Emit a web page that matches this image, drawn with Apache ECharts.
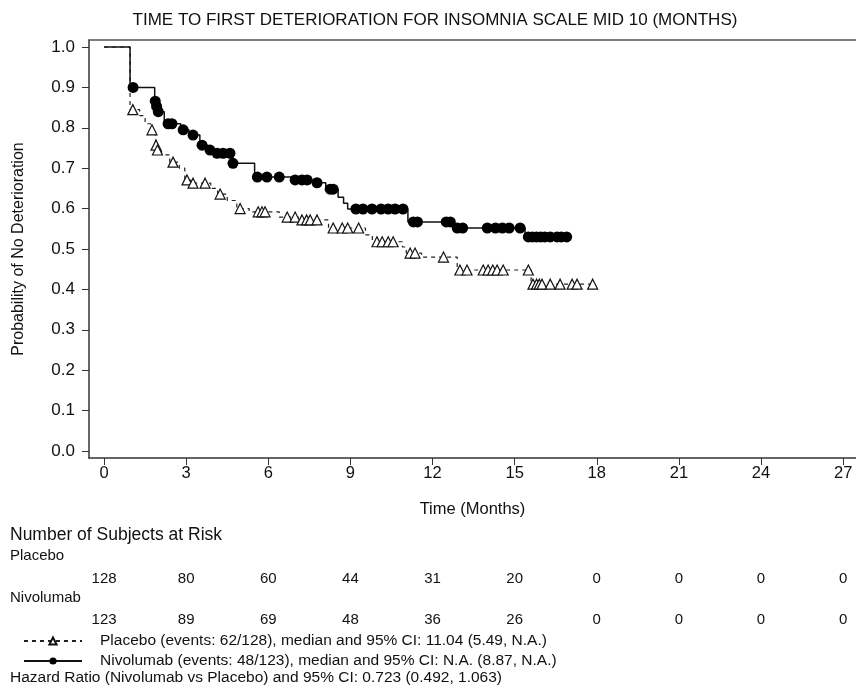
<!DOCTYPE html>
<html>
<head>
<meta charset="utf-8">
<script src="https://cdn.jsdelivr.net/npm/echarts@6/dist/echarts.min.js"></script>
<style>
  html, body { margin: 0; padding: 0; background: #fff; }
  #chart { width: 856px; height: 690px; }
</style>
</head>
<body>
<div id="chart"></div>
<script>
// time ticks (months) and risk table
const timeTicks = [0, 3, 6, 9, 12, 15, 18, 21, 24, 27]
const probTicks = [0, 0.1, 0.2, 0.3, 0.4, 0.5, 0.6, 0.7, 0.8, 0.9, 1.0]
const placeboAtRisk = [128, 80, 60, 44, 31, 20, 0, 0, 0, 0]
const nivolumabAtRisk = [123, 89, 69, 48, 36, 26, 0, 0, 0, 0]

// Kaplan-Meier steps: [time, survival after event]
const placeboEvents = [
  [0.95, 0.845], [1.3, 0.83], [1.5, 0.81], [1.7, 0.795], [1.88, 0.757], [1.93, 0.745],
  [2.1, 0.733], [2.4, 0.715], [2.75, 0.7], [2.95, 0.671], [3.15, 0.663], [3.9, 0.65],
  [4.15, 0.636], [4.5, 0.62], [4.85, 0.6], [5.3, 0.592], [6.4, 0.579], [7.1, 0.572],
  [8.2, 0.552], [9.55, 0.535], [9.8, 0.518], [10.9, 0.505], [11.04, 0.49], [11.6, 0.48],
  [12.9, 0.448], [15.6, 0.413]
]
// censored observations
const placeboCensored = [
  [1.05, 0.845], [1.75, 0.795], [1.9, 0.757], [1.95, 0.745], [2.52, 0.715], [3.03, 0.671],
  [3.25, 0.663], [3.69, 0.663], [4.24, 0.636], [4.97, 0.6], [5.63, 0.592], [5.77, 0.592],
  [5.88, 0.592], [6.69, 0.579], [6.98, 0.579], [7.23, 0.572], [7.4, 0.572], [7.53, 0.572],
  [7.78, 0.572], [8.37, 0.552], [8.7, 0.552], [8.9, 0.552], [9.3, 0.552], [9.97, 0.518],
  [10.16, 0.518], [10.38, 0.518], [10.56, 0.518], [11.18, 0.49], [11.36, 0.49], [12.4, 0.48],
  [13.0, 0.448], [13.26, 0.448], [13.85, 0.448], [14.03, 0.448], [14.2, 0.448], [14.36, 0.448],
  [14.58, 0.448], [15.5, 0.448], [15.67, 0.413], [15.8, 0.413], [15.9, 0.413], [16.0, 0.413],
  [16.3, 0.413], [16.66, 0.413], [17.1, 0.413], [17.28, 0.413], [17.85, 0.413]
]

const nivolumabEvents = [
  [0.95, 0.9], [1.85, 0.866], [1.9, 0.853], [1.95, 0.84], [2.2, 0.81], [2.8, 0.795],
  [3.1, 0.782], [3.5, 0.757], [3.8, 0.745], [4.0, 0.737], [4.65, 0.712], [5.5, 0.678],
  [6.9, 0.671], [7.6, 0.664], [8.1, 0.648], [8.55, 0.628], [8.75, 0.613], [8.9, 0.599],
  [11.1, 0.567], [12.75, 0.552], [15.38, 0.53]
]
const nivolumabCensored = [
  [1.06, 0.9], [1.87, 0.866], [1.92, 0.853], [1.98, 0.84], [2.34, 0.81], [2.48, 0.81],
  [2.89, 0.795], [3.25, 0.782], [3.58, 0.757], [3.87, 0.745], [4.13, 0.737], [4.35, 0.737],
  [4.6, 0.737], [4.71, 0.712], [5.6, 0.678], [5.95, 0.678], [6.4, 0.678], [6.98, 0.671],
  [7.23, 0.671], [7.42, 0.671], [7.78, 0.664], [8.26, 0.648], [8.37, 0.648], [9.2, 0.599],
  [9.46, 0.599], [9.79, 0.599], [10.12, 0.599], [10.38, 0.599], [10.63, 0.599], [10.92, 0.599],
  [11.3, 0.567], [11.45, 0.567], [12.5, 0.567], [12.65, 0.567], [12.9, 0.552], [13.1, 0.552],
  [14.0, 0.552], [14.3, 0.552], [14.55, 0.552], [14.8, 0.552], [15.2, 0.552], [15.5, 0.53],
  [15.65, 0.53], [15.8, 0.53], [15.95, 0.53], [16.1, 0.53], [16.3, 0.53], [16.55, 0.53],
  [16.7, 0.53], [16.9, 0.53]
]

const legendText = {
  Placebo: 'Placebo (events: 62/128), median and 95% CI: 11.04 (5.49, N.A.)',
  Nivolumab: 'Nivolumab (events: 48/123), median and 95% CI: N.A. (8.87, N.A.)'
}

const FONT = 'Liberation Sans, Arial, sans-serif'
const X_MIN = -0.55
const X_MAX = 27.47

// merge events + censored into one step curve, markers only on censored points
function buildCurve(events, censored) {
  const pts = [{ value: [0, 1], symbol: 'none', ev: 0 }]
  events.forEach(p => pts.push({ value: p, symbol: 'none', ev: 0 }))
  censored.forEach(p => pts.push({ value: p, ev: 1 }))
  pts.sort((a, b) => a.value[0] - b.value[0] || a.ev - b.ev)
  return pts.map(p => p.symbol ? { value: p.value, symbol: p.symbol } : { value: p.value })
}

function riskData(arr, row) {
  return timeTicks.map((t, i) => [t, row, arr[i]])
}

const riskLabel = {
  show: true,
  position: 'inside',
  fontSize: 15,
  color: '#111',
  opacity: 1,
  formatter: p => p.value[2]
}

const chart = echarts.init(document.getElementById('chart'))

chart.setOption({
  backgroundColor: '#fff',
  animation: false,
  textStyle: { fontFamily: FONT },
  title: {
    text: 'TIME TO FIRST DETERIORATION FOR INSOMNIA SCALE MID 10 (MONTHS)',
    left: 430,
    textAlign: 'center',
    top: 7,
    textStyle: { fontSize: 17, fontWeight: 'normal', color: '#111', fontFamily: FONT }
  },
  legend: {
    orient: 'vertical',
    left: 18,
    top: 628,
    itemWidth: 58,
    itemHeight: 9,
    itemGap: 4,
    data: ['Placebo', 'Nivolumab'],
    formatter: name => legendText[name],
    textStyle: { fontSize: 15.5, color: '#111', padding: [0, 0, 0, 13], fontFamily: FONT }
  },
  grid: [
    { left: 89, right: 0, top: 40, bottom: 232 },
    { left: 89, right: 0, top: 558, height: 82 }
  ],
  xAxis: [
    {
      type: 'value',
      gridIndex: 0,
      min: X_MIN,
      max: X_MAX,
      name: 'Time (Months)',
      nameLocation: 'middle',
      nameGap: 43,
      nameTextStyle: { fontSize: 16.5, color: '#111' },
      splitLine: { show: false },
      axisLine: { show: true, onZero: false, lineStyle: { color: '#333', width: 1.5 } },
      axisTick: { show: true, length: 7, customValues: timeTicks, lineStyle: { color: '#333' } },
      axisLabel: { customValues: timeTicks, fontSize: 16.5, color: '#111', margin: 7 }
    },
    {
      type: 'value',
      gridIndex: 0,
      position: 'top',
      min: X_MIN,
      max: X_MAX,
      splitLine: { show: false },
      axisLine: { show: true, onZero: false, lineStyle: { color: '#555', width: 1.5 } },
      axisTick: { show: false },
      axisLabel: { show: false }
    },
    {
      type: 'value',
      gridIndex: 1,
      min: X_MIN,
      max: X_MAX,
      show: false
    }
  ],
  yAxis: [
    {
      type: 'value',
      gridIndex: 0,
      min: -0.0173,
      max: 1.0173,
      name: 'Probability of No Deterioration',
      nameLocation: 'middle',
      nameGap: 62,
      nameRotate: 90,
      nameTextStyle: { fontSize: 16, color: '#111' },
      splitLine: { show: false },
      axisLine: { show: true, onZero: false, lineStyle: { color: '#333', width: 1.5 } },
      axisTick: { show: true, length: 7, customValues: probTicks, lineStyle: { color: '#333' } },
      axisLabel: {
        customValues: probTicks,
        fontSize: 17,
        color: '#111',
        margin: 14,
        formatter: v => v.toFixed(1)
      }
    },
    {
      type: 'value',
      gridIndex: 1,
      min: -1.5,
      max: 0.5,
      show: false
    }
  ],
  series: [
    {
      name: 'Placebo',
      type: 'line',
      step: 'end',
      xAxisIndex: 0,
      yAxisIndex: 0,
      symbol: 'triangle',
      symbolSize: 10,
      showAllSymbol: true,
      lineStyle: { color: '#222', width: 1.2, type: [4, 4] },
      itemStyle: { color: '#fff', borderColor: '#111', borderWidth: 1.2 },
      emphasis: { disabled: true },
      z: 3,
      data: buildCurve(placeboEvents, placeboCensored)
    },
    {
      name: 'Nivolumab',
      type: 'line',
      step: 'end',
      xAxisIndex: 0,
      yAxisIndex: 0,
      symbol: 'circle',
      symbolSize: 11,
      showAllSymbol: true,
      lineStyle: { color: '#111', width: 1.5 },
      itemStyle: { color: '#000', borderColor: '#000', borderWidth: 0 },
      emphasis: { disabled: true },
      z: 4,
      data: buildCurve(nivolumabEvents, nivolumabCensored)
    },
    {
      name: 'riskPlacebo',
      type: 'scatter',
      xAxisIndex: 2,
      yAxisIndex: 1,
      symbolSize: 0,
      silent: true,
      itemStyle: { opacity: 1 },
      label: riskLabel,
      data: riskData(placeboAtRisk, 0)
    },
    {
      name: 'riskNivolumab',
      type: 'scatter',
      xAxisIndex: 2,
      yAxisIndex: 1,
      symbolSize: 0,
      silent: true,
      itemStyle: { opacity: 1 },
      label: riskLabel,
      data: riskData(nivolumabAtRisk, -1)
    }
  ],
  graphic: [
    { type: 'text', left: 10, top: 526, style: { text: 'Number of Subjects at Risk', fill: '#111', font: '17.5px ' + FONT } },
    { type: 'text', left: 10, top: 548, style: { text: 'Placebo', fill: '#111', font: '15px ' + FONT } },
    { type: 'text', left: 10, top: 590, style: { text: 'Nivolumab', fill: '#111', font: '15px ' + FONT } },
    { type: 'text', left: 10, top: 670, style: { text: 'Hazard Ratio (Nivolumab vs Placebo) and 95% CI: 0.723 (0.492, 1.063)', fill: '#111', font: '15.5px ' + FONT } }
  ]
})
</script>
</body>
</html>
